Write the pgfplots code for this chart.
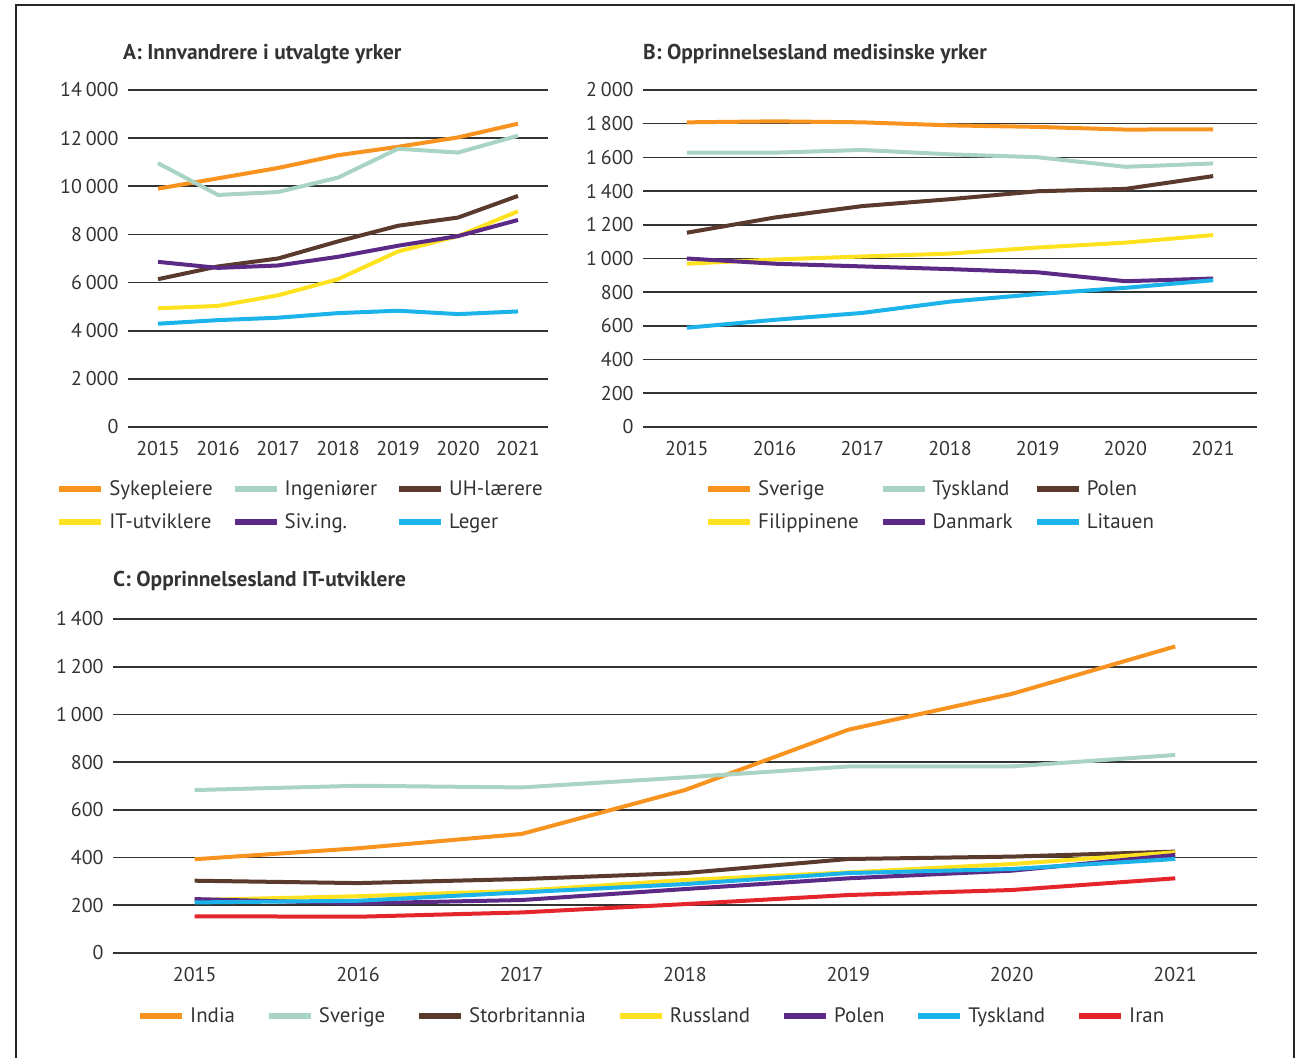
\documentclass[border=0pt]{standalone}
\usepackage{pgfplots}
\pgfplotsset{compat=1.18}
\usepackage{fontspec}
\setmainfont{PT Sans}
\definecolor{cOrange}{HTML}{F7931E}
\definecolor{cMint}{HTML}{A9D4C3}
\definecolor{cBrown}{HTML}{5A3A2C}
\definecolor{cYellow}{HTML}{FFE21F}
\definecolor{cPurple}{HTML}{5B2A86}
\definecolor{cCyan}{HTML}{1BB3EA}
\definecolor{cRed}{HTML}{E4252B}
\definecolor{cText}{HTML}{333333}
\pgfplotsset{
  panel/.style={
    scale only axis,
    axis line style={draw=none},
    major tick style={draw=none},
    minor tick style={draw=none},
    ymajorgrids,
    grid style={line width=1.6bp, black!80},
    ymin=0, enlargelimits=false,
    xmin=2014.5, xmax=2021.5,
    xtick={2015,...,2021},
    scaled y ticks=false,
    tick label style={font=\fontsize{20}{22}\selectfont, text=cText},
    /pgf/number format/assume math mode=true,
    /pgf/number format/1000 sep={\hspace{0.2em}},
    xticklabel style={/pgf/number format/1000 sep={}, yshift=-11bp},
    yticklabel style={xshift=-6bp},
    every axis plot/.append style={line width=4bp, line join=round, no markers},
    legend cell align=left,
    legend style={draw=none, fill=none, inner sep=0pt, font=\fontsize{21}{24}\selectfont, text=cText,
      anchor=north west, row sep=13bp,
      nodes={inner xsep=5bp}},
    legend image code/.code={\draw[##1, line width=6bp] (0bp,0bp) -- (42bp,0bp);},
  }
}
\begin{document}
\begin{tikzpicture}
\useasboundingbox (0bp,0bp) rectangle (1296bp,1058bp);
\draw[line width=2bp, black!85] (16bp,-5bp) -- (16bp,1053bp) -- (1294bp,1053bp) -- (1294bp,-5bp);
% Titles
\node[anchor=base west, inner sep=0pt, font=\bfseries\fontsize{21.5}{24}\selectfont, text=cText] at (123bp,998bp) {A: Innvandrere i utvalgte yrker};
\node[anchor=base west, inner sep=0pt, font=\bfseries\fontsize{21.5}{24}\selectfont, text=cText] at (643bp,998bp) {B: Opprinnelsesland medisinske yrker};
\node[anchor=base west, inner sep=0pt, font=\bfseries\fontsize{21.5}{24}\selectfont, text=cText] at (113bp,471bp) {C: Opprinnelsesland IT-utviklere};

% Panel A
\begin{axis}[panel, at={(128bp,631bp)}, anchor=south west, width=420bp, height=337bp,
  ymax=14000, ytick distance=2000,
  legend columns=3,
  legend style={at={(-0.171,-0.152)}, /tikz/every even column/.append style={column sep=14bp}}]
\addplot[cOrange] coordinates {(2015,9900) (2016,10330) (2017,10760) (2018,11290) (2019,11640) (2020,12030) (2021,12600)};
\addlegendentry{Sykepleiere}
\addplot[cMint] coordinates {(2015,10960) (2016,9640) (2017,9760) (2018,10360) (2019,11560) (2020,11400) (2021,12100)};
\addlegendentry{Ingeniører}
\addplot[cBrown] coordinates {(2015,6140) (2016,6670) (2017,7000) (2018,7710) (2019,8360) (2020,8700) (2021,9600)};
\addlegendentry{UH-lærere}
\addplot[cYellow] coordinates {(2015,4930) (2016,5030) (2017,5470) (2018,6140) (2019,7290) (2020,7930) (2021,8960)};
\addlegendentry{IT-utviklere}
\addplot[cPurple] coordinates {(2015,6860) (2016,6610) (2017,6710) (2018,7070) (2019,7530) (2020,7930) (2021,8600)};
\addlegendentry{Siv.ing.}
\addplot[cCyan] coordinates {(2015,4290) (2016,4440) (2017,4540) (2018,4730) (2019,4830) (2020,4690) (2021,4800)};
\addlegendentry{Leger}
\end{axis}

% Panel B
\begin{axis}[panel, at={(643bp,631bp)}, anchor=south west, width=614bp, height=337bp,
  ymax=2000, ytick distance=200,
  legend columns=3,
  legend style={at={(0.101,-0.152)}, /tikz/every even column/.append style={column sep=16bp}}]
\addplot[cOrange] coordinates {(2015,1808) (2016,1814) (2017,1808) (2018,1790) (2019,1781) (2020,1765) (2021,1767)};
\addlegendentry{Sverige}
\addplot[cMint] coordinates {(2015,1628) (2016,1628) (2017,1644) (2018,1618) (2019,1601) (2020,1544) (2021,1564)};
\addlegendentry{Tyskland}
\addplot[cBrown] coordinates {(2015,1153) (2016,1243) (2017,1311) (2018,1352) (2019,1399) (2020,1413) (2021,1489)};
\addlegendentry{Polen}
\addplot[cYellow] coordinates {(2015,969) (2016,994) (2017,1012) (2018,1029) (2019,1065) (2020,1094) (2021,1139)};
\addlegendentry{Filippinene}
\addplot[cPurple] coordinates {(2015,1000) (2016,969) (2017,953) (2018,937) (2019,918) (2020,865) (2021,881)};
\addlegendentry{Danmark}
\addplot[cCyan] coordinates {(2015,589) (2016,636) (2017,677) (2018,744) (2019,789) (2020,826) (2021,871)};
\addlegendentry{Litauen}
\end{axis}

% Panel C
\begin{axis}[panel, at={(113bp,105bp)}, anchor=south west, width=1144bp, height=334bp,
  ymax=1400, ytick distance=200,
  legend columns=7,
  legend style={at={(0.021,-0.158)}, /tikz/every even column/.append style={column sep=26bp}}]
\addplot[cOrange] coordinates {(2015,393) (2016,439) (2017,499) (2018,683) (2019,936) (2020,1086) (2021,1285)};
\addlegendentry{India}
\addplot[cMint] coordinates {(2015,683) (2016,701) (2017,694) (2018,736) (2019,782) (2020,782) (2021,830)};
\addlegendentry{Sverige}
\addplot[cBrown] coordinates {(2015,303) (2016,293) (2017,310) (2018,335) (2019,394) (2020,404) (2021,425)};
\addlegendentry{Storbritannia}
\addplot[cYellow] coordinates {(2015,222) (2016,238) (2017,261) (2018,306) (2019,338) (2020,373) (2021,422)};
\addlegendentry{Russland}
\addplot[cPurple] coordinates {(2015,226) (2016,208) (2017,222) (2018,268) (2019,313) (2020,345) (2021,411)};
\addlegendentry{Polen}
\addplot[cCyan] coordinates {(2015,212) (2016,219) (2017,254) (2018,289) (2019,335) (2020,352) (2021,394)};
\addlegendentry{Tyskland}
\addplot[cRed] coordinates {(2015,154) (2016,152) (2017,170) (2018,205) (2019,243) (2020,264) (2021,313)};
\addlegendentry{Iran}
\end{axis}
\end{tikzpicture}
\end{document}
